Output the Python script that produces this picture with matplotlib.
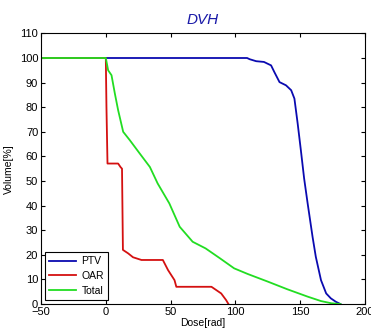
import matplotlib
matplotlib.use("Agg")
import matplotlib.pyplot as plt

# Dose-volume histogram data
ptv_dose = [-50, 0, 109, 111, 116, 122, 127.5, 130, 134, 139, 143, 145.5, 148,
            150.5, 153, 155.7, 159.5, 162, 166, 170, 173.6, 177.5, 181]
ptv_vol = [100, 100, 100, 99.5, 98.7, 98.4, 97, 94.3, 90.2, 88.9, 86.9, 83.5, 73.4,
           62.4, 51, 40.9, 27.3, 19.2, 9.7, 4.3, 2.3, 0.9, 0]

oar_dose = [-50, 0, 0.5, 1.3, 9.5, 11.3, 12.5, 13.2, 17.2, 21, 27.5, 44, 48, 53,
            54.4, 81.5, 89, 92.8, 94.6]
oar_vol = [100, 100, 80, 57.1, 57.1, 55.7, 55, 22, 20.6, 19, 17.9, 17.9, 13.8, 9.7,
           7, 7, 4.3, 1.6, 0]

total_dose = [-50, 0, 1.8, 4.4, 7, 9.5, 13.4, 18.5, 26, 34, 40, 49, 57, 67, 77, 88,
              99, 109.5, 125, 140, 155.7, 166, 174, 181]
total_vol = [100, 100, 95, 93, 85.5, 78.8, 70, 66.6, 61.3, 55.7, 49, 40.9, 31.4, 25.3,
             22.6, 18.6, 14.5, 12.2, 9.1, 6, 3, 1.2, 0.3, 0]

x_ticks = [-50, 0, 50, 100, 150, 200]
y_ticks = list(range(0, 111, 10))

plt.rcParams['font.family'] = ['Liberation Sans Narrow', 'Liberation Sans', 'DejaVu Sans']

fig = plt.figure(figsize=(3.71, 3.36), dpi=100)
ax = fig.add_axes([0.1105, 0.0952, 0.8735, 0.8054])

ax.plot(ptv_dose, ptv_vol, color='#0a0ab0', lw=1.3, label='PTV')
ax.plot(oar_dose, oar_vol, color='#d41010', lw=1.3, label='OAR')
ax.plot(total_dose, total_vol, color='#22dd22', lw=1.3, label='Total')

ax.set_xlim(-50, 200)
ax.set_ylim(0, 110)
ax.set_xticks(x_ticks)
ax.set_yticks(y_ticks)
ax.tick_params(direction='in', top=True, right=True, labelsize=8, length=3, pad=2)
for s in ax.spines.values():
    s.set_linewidth(0.8)

ax.set_title('DVH', fontsize=11, style='italic', color='#1a1aa8', pad=7)
ax.set_xlabel('Dose[rad]', fontsize=7.5, labelpad=1)
ax.set_ylabel('Volume[%]', fontsize=7.5, labelpad=4)

leg = ax.legend(loc='lower left', fontsize=7.5, fancybox=False, edgecolor='black',
                framealpha=1, handlelength=2.6, borderaxespad=0.4, labelspacing=0.45,
                handletextpad=0.5, borderpad=0.4)
leg.get_frame().set_linewidth(0.8)

fig.savefig('out.png', dpi=100)
